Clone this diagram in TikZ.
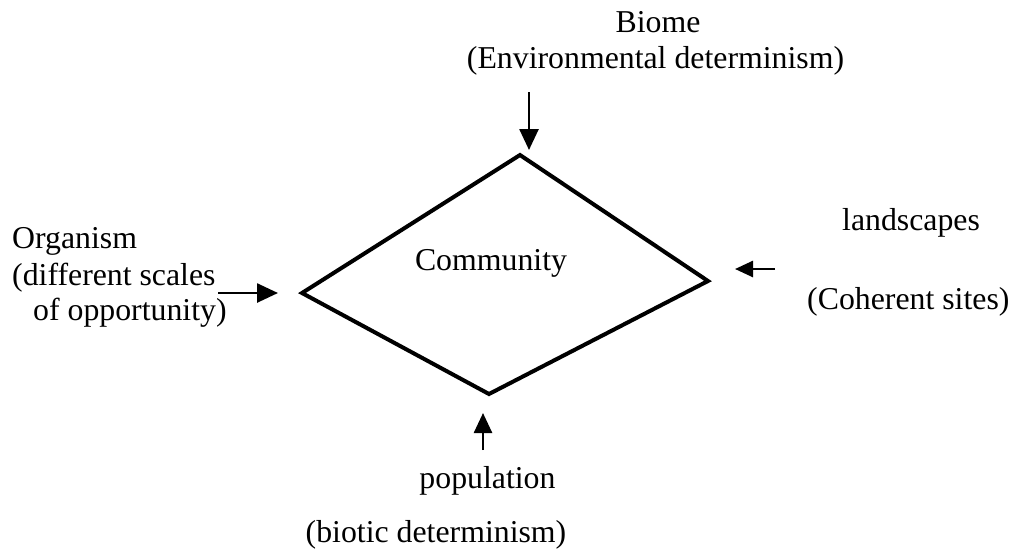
\documentclass[tikz,border=0pt]{standalone}
\usepackage{fontspec}
\setmainfont{Liberation Serif}
\usetikzlibrary{arrows.meta}
\begin{document}
\begin{tikzpicture}[x=1pt,y=-1pt,
  lbl/.style={anchor=base,inner sep=0pt,font=\fontsize{31.8}{36}\selectfont},
  feed/.style={line width=2.6pt,-{Triangle[length=21pt,width=19pt]}},
  rim/.style={line width=4pt,line join=miter}]
  \useasboundingbox[fill=white] (0,0) rectangle (1014,550);

  % skewed diamond around "Community"
  \coordinate (dt) at (520,155);
  \coordinate (dr) at (708,281);
  \coordinate (db) at (489,394);
  \coordinate (dl) at (302,293);
  \draw[rim] (dt) -- (dr) -- (db) -- (dl) -- cycle;
  \node[lbl] (comm) at (491,270) {Community};

  % top: biome
  \node[lbl] (biome) at (658,32) {Biome};
  \node[lbl] (env) at (655.5,68) {(Environmental determinism)};
  \coordinate (tTail) at (529,92);
  \coordinate (tTip) at (529,150);
  \draw[feed] (tTail) -- (tTip);

  % left: organism
  \node[lbl,anchor=base west] (org) at (12,248) {Organism};
  \node[lbl,anchor=base west] (diff) at (12,285) {(different scales};
  \node[lbl,anchor=base west] (opp) at (33,320) {of opportunity)};
  \coordinate (lTail) at (218,293);
  \coordinate (lTip) at (278,293);
  \draw[feed] (lTail) -- (lTip);

  % right: landscapes
  \node[lbl,anchor=base west] (land) at (842,230) {landscapes};
  \node[lbl,anchor=base west] (coh) at (807,309) {(Coherent sites)};
  \coordinate (rTail) at (775,269);
  \coordinate (rTip) at (735,269);
  \draw[line width=2.6pt,-{Triangle[length=18pt,width=16pt]}] (rTail) -- (rTip);

  % bottom: population
  \coordinate (bTail) at (483,450);
  \coordinate (bTip) at (483,413);
  \draw[line width=2.6pt,-{Triangle[length=20pt,width=18pt]}] (bTail) -- (bTip);
  \node[lbl] (pop) at (487.5,488) {population};
  \node[lbl] (bio) at (436,542) {(biotic determinism)};
\end{tikzpicture}
\end{document}
